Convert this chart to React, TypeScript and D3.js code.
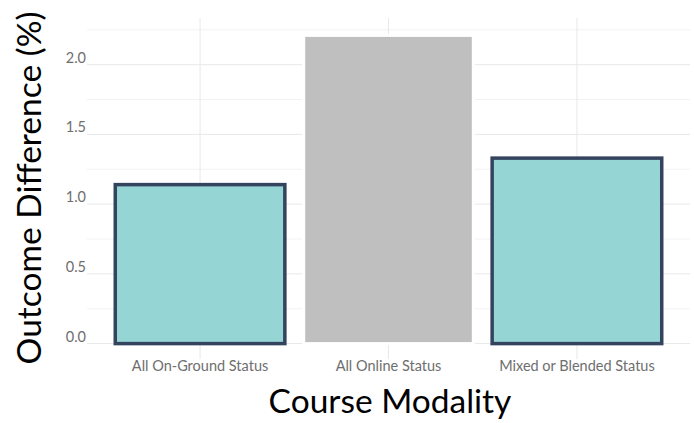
import React from "react";
import * as d3 from "d3";

const categories = ["All On-Ground Status", "All Online Status", "Mixed or Blended Status"];
const values = [1.14, 2.21, 1.33];
const highlighted = [true, false, true];
const yTicks = [0, 0.5, 1.0, 1.5, 2.0];
const yMinor = [0.25, 0.75, 1.25, 1.75, 2.25];

const W = 694;
const H = 423;
const panel = { left: 87, right: 690, top: 20, bottom: 359 };

export default function App() {
  const x = d3
    .scaleBand<string>()
    .domain(categories)
    .range([panel.left, panel.right])
    .paddingInner(0.1)
    .paddingOuter(0.15);
  const maxV = d3.max(values) as number;
  const y = d3
    .scaleLinear()
    .domain([-maxV * 0.05, maxV * 1.05])
    .range([panel.bottom, panel.top]);
  const font = "Lato, 'Open Sans', sans-serif";
  return (
    <svg width={W} height={H} style={{ position: "absolute", left: 0, top: 0, background: "#fff" }}>
      <rect x={0} y={0} width={W} height={H} fill="#fff" />
      {yMinor.map((t) => (
        <line key={"m" + t} x1={panel.left} x2={panel.right} y1={y(t)} y2={y(t)} stroke="#f2f2f2" strokeWidth={1} />
      ))}
      {yTicks.map((t) => (
        <line key={"g" + t} x1={panel.left} x2={panel.right} y1={y(t)} y2={y(t)} stroke="#e8e8e8" strokeWidth={1} />
      ))}
      {categories.map((c) => (
        <line
          key={"v" + c}
          x1={(x(c) as number) + x.bandwidth() / 2}
          x2={(x(c) as number) + x.bandwidth() / 2}
          y1={panel.top - 2}
          y2={panel.bottom}
          stroke="#e8e8e8"
          strokeWidth={1}
        />
      ))}
      {categories.map((c, i) => (
        <rect
          key={"b" + c}
          x={x(c) as number}
          y={y(values[i])}
          width={x.bandwidth()}
          height={y(0) - y(values[i])}
          fill={highlighted[i] ? "#95d5d4" : "#bfbfbf"}
          stroke={highlighted[i] ? "#34435e" : "#ffffff"}
          strokeWidth={highlighted[i] ? 3.5 : 3}
        />
      ))}
      {yTicks.map((t) => (
        <text
          key={"t" + t}
          x={panel.left - 1}
          y={y(t) - 2}
          textAnchor="end"
          fontFamily={font}
          fontSize={14.5}
          fill="#6e6e6e"
        >
          {d3.format(".1f")(t)}
        </text>
      ))}
      {categories.map((c) => (
        <text
          key={"xl" + c}
          x={(x(c) as number) + x.bandwidth() / 2}
          y={371}
          textAnchor="middle"
          fontFamily={font}
          fontSize={14.5}
          fill="#6e6e6e"
        >
          {c}
        </text>
      ))}
      <text
        transform={`translate(41,188) rotate(-90)`}
        textAnchor="middle"
        fontFamily={font}
        fontSize={33.5}
        fill="#000"
      >
        Outcome Difference (%)
      </text>
      <text x={390} y={413} textAnchor="middle" fontFamily={font} fontSize={33.5} fill="#000">
        Course Modality
      </text>
    </svg>
  );
}
